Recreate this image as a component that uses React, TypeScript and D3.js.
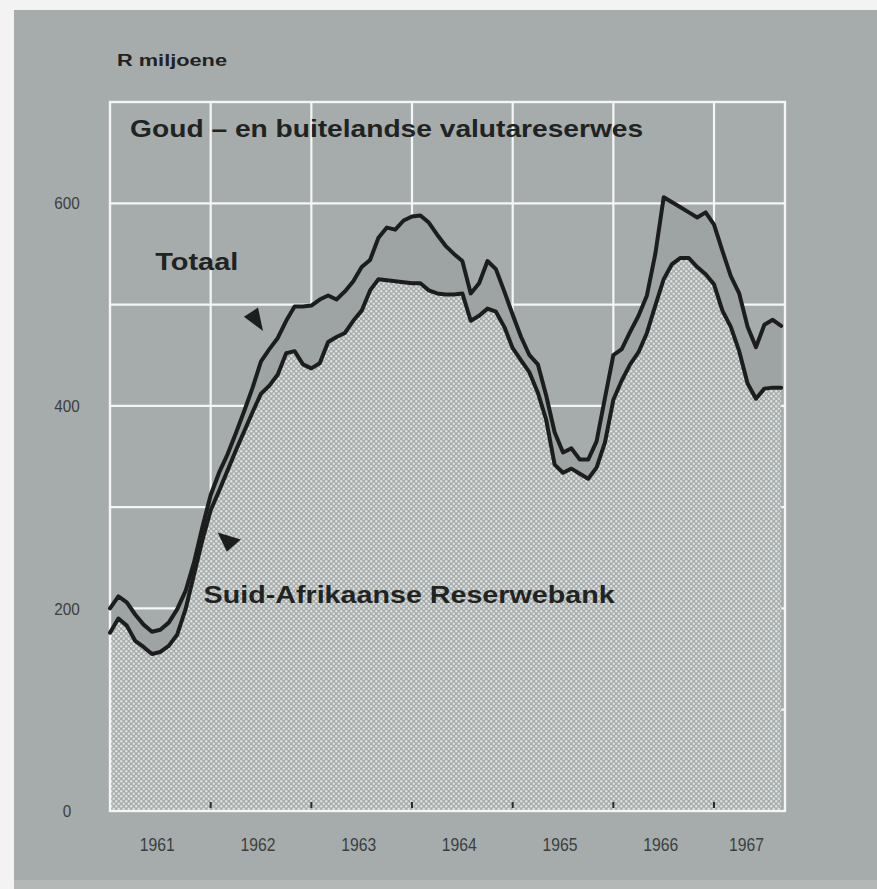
import React from 'react';
import * as d3 from 'd3';

// Monthly observations, January 1961 onward (R million)
const START_YEAR = 1961;
const totaalValues = [
  200, 212, 206, 194, 184, 177, 179, 186, 199, 217, 245, 280,
  312, 334, 352, 373, 395, 418, 444, 456, 467, 484, 498, 498,
  499, 505, 509, 505, 513, 523, 537, 544, 566, 576, 574, 583,
  587, 588, 581, 569, 558, 550, 543, 511, 521, 543, 535, 513,
  490, 468, 450, 441, 410, 374, 354, 358, 347, 347, 365, 408,
  450, 456, 473, 489, 509, 550, 606, 601, 596, 591, 586, 591,
  579, 553, 528, 511, 478, 458, 480, 485, 479,
];
const reserwebankValues = [
  176, 190, 183, 168, 162, 155, 157, 163, 174, 199, 233, 267,
  297, 316, 336, 356, 375, 394, 412, 420, 431, 452, 454, 441,
  437, 442, 463, 468, 472, 484, 494, 514, 525, 524, 523, 522,
  521, 521, 514, 511, 510, 510, 511, 484, 489, 496, 493, 478,
  457, 445, 433, 413, 386, 342, 334, 338, 333, 328, 339, 364,
  406, 425, 441, 453, 472, 499, 525, 540, 546, 546, 537, 530,
  520, 494, 478, 454, 422, 407, 417, 418, 418,
];
const yearLabels = ['1961', '1962', '1963', '1964', '1965', '1966', '1967'];
const yearBoundaries = [1962, 1963, 1964, 1965, 1966, 1967];
const yTickValues = [0, 200, 400, 600];
const gridValues = [100, 200, 300, 400, 500, 600];
const X_END = 1967.705;
const Y_MAX = 700;

// annotation arrows (data coordinates)
const arrowTotaal: [number, number][] = [[1962.33, 488], [1962.47, 497], [1962.52, 474]];
const arrowBank: [number, number][] = [[1962.07, 275], [1962.3, 268], [1962.16, 256]];

export default function App() {
  const x = d3.scaleLinear().domain([START_YEAR, X_END]).range([110, 785]);
  const y = d3.scaleLinear().domain([0, Y_MAX]).range([811, 102]);

  const dates = totaalValues.map((_, i) => START_YEAR + i / 12);
  const totalData = dates.map((d, i) => ({ d, v: totaalValues[i] }));
  const bankData = dates.map((d, i) => ({ d, v: reserwebankValues[i] }));

  const area = d3
    .area<{ d: number; v: number }>()
    .x((p) => x(p.d))
    .y0(y(0))
    .y1((p) => y(p.v));
  const line = d3
    .line<{ d: number; v: number }>()
    .x((p) => x(p.d))
    .y((p) => y(p.v));

  const tri = (pts: [number, number][]) => pts.map(([a, b]) => `${x(a)},${y(b)}`).join(' ');

  const font = "'Liberation Sans', Arial, Helvetica, sans-serif";
  const narrow = "'Liberation Sans Narrow', 'Liberation Sans', Arial, sans-serif";
  const [x0, x1] = x.range();
  const [yb, yt] = y.range();

  return (
    <svg width={877} height={889} style={{ position: 'absolute', left: 0, top: 0 }}>
      <defs>
        <pattern id="stip" width="5" height="5" patternUnits="userSpaceOnUse">
          <rect width="5" height="5" fill="#a7adac" />
          <circle cx="1.25" cy="1.25" r="1.2" fill="#dee2e1" />
          <circle cx="3.75" cy="3.75" r="1.2" fill="#dee2e1" />
        </pattern>
      </defs>
      <rect x={0} y={0} width={877} height={889} fill="#f2f3f2" />
      <rect x={14} y={10} width={863} height={870} fill="#a6acab" />
      <rect x={14} y={880} width={863} height={9} fill="#b4b9b8" />

      {/* grid */}
      {gridValues.map((v) => (
        <line key={'h' + v} x1={x0} x2={x1} y1={y(v)} y2={y(v)} stroke="#f4f6f5" strokeWidth={2.2} />
      ))}
      {yearBoundaries.map((yr) => (
        <line key={'v' + yr} x1={x(yr)} x2={x(yr)} y1={yt} y2={yb} stroke="#f4f6f5" strokeWidth={2.2} />
      ))}

      {/* areas */}
      <path d={area(totalData) || ''} fill="#9ea4a3" />
      <path d={area(bankData) || ''} fill="url(#stip)" />

      {/* frame */}
      <rect x={x0} y={yt} width={x1 - x0} height={yb - yt} fill="none" stroke="#f4f6f5" strokeWidth={2.4} />

      {/* year ticks */}
      {yearBoundaries.map((yr) => (
        <line key={'t' + yr} x1={x(yr)} x2={x(yr)} y1={yb - 9} y2={yb - 3} stroke="#2a2e2d" strokeWidth={2} />
      ))}

      {/* lines */}
      <path d={line(totalData) || ''} fill="none" stroke="#1b1e1d" strokeWidth={4} strokeLinejoin="round" strokeLinecap="round" />
      <path d={line(bankData) || ''} fill="none" stroke="#1b1e1d" strokeWidth={4} strokeLinejoin="round" strokeLinecap="round" />

      {/* arrows */}
      <polygon points={tri(arrowTotaal)} fill="#1b1e1d" />
      <polygon points={tri(arrowBank)} fill="#1b1e1d" />

      {/* y labels */}
      {yTickValues.map((v) => {
        const s = String(v);
        return (
          <text key={'yl' + v} x={67} y={y(v)} dy="0.36em" textAnchor="middle" fontFamily={narrow} fontSize={17} fill="#3a3f3e" textLength={s.length * 8.5} lengthAdjust="spacingAndGlyphs">
            {s}
          </text>
        );
      })}
      {/* x labels */}
      {yearLabels.map((lab, i) => {
        const a = START_YEAR + i;
        const b = Math.min(a + 1, X_END);
        return (
          <text key={lab} x={x((a + b) / 2) - 3} y={851} textAnchor="middle" fontFamily={narrow} fontSize={18} fill="#3a3f3e" textLength={35} lengthAdjust="spacingAndGlyphs">
            {lab}
          </text>
        );
      })}

      <text x={117} y={66} fontFamily={font} fontWeight="bold" fontSize={16} fill="#1f2322" textLength={110} lengthAdjust="spacingAndGlyphs">
        R miljoene
      </text>
      <text x={x(1961.2)} y={y(665.5)} fontFamily={font} fontWeight="bold" fontSize={24} fill="#1f2322" textLength={513} lengthAdjust="spacingAndGlyphs">
        Goud – en buitelandse valutareserwes
      </text>
      <text x={x(1961.45)} y={y(534)} fontFamily={font} fontWeight="bold" fontSize={24} fill="#1f2322" textLength={83} lengthAdjust="spacingAndGlyphs">
        Totaal
      </text>
      <text x={x(1961.93)} y={y(205)} fontFamily={font} fontWeight="bold" fontSize={24} fill="#1f2322" textLength={411} lengthAdjust="spacingAndGlyphs">
        Suid-Afrikaanse Reserwebank
      </text>
    </svg>
  );
}
